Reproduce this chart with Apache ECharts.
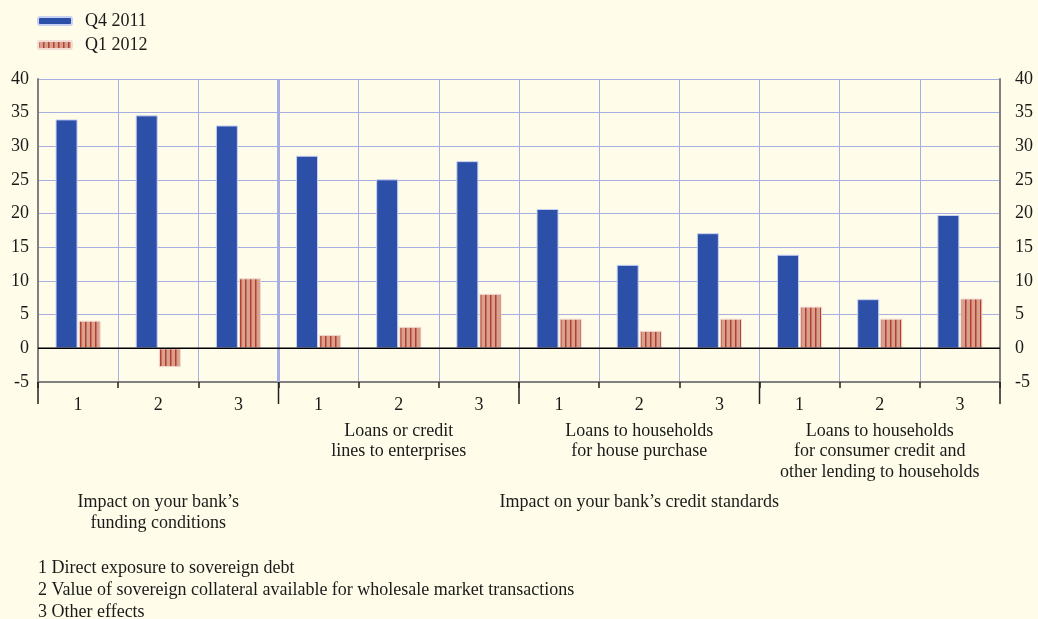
<!DOCTYPE html>
<html>
<head>
<meta charset="utf-8">
<script src="https://cdn.jsdelivr.net/npm/echarts@6/dist/echarts.min.js"></script>
<style>
html,body{margin:0;padding:0;background:#fffde9;}
#main{width:1038px;height:619px;}
</style>
</head>
<body>
<div id="main"></div>
<script>
// ---- data ----
const categories = ['F1','F2','F3','E1','E2','E3','H1','H2','H3','C1','C2','C3'];
const tickLabels = ['1','2','3','1','2','3','1','2','3','1','2','3'];
const q4_2011 = [34.0, 34.6, 33.1, 28.6, 25.1, 27.8, 20.7, 12.4, 17.1, 13.9, 7.3, 19.8];
const q1_2012 = [4.1, -2.8, 10.4, 2.0, 3.2, 8.1, 4.4, 2.6, 4.4, 6.2, 4.4, 7.4];
const seriesNames = ['Q4 2011', 'Q1 2012'];
const groupLabels = ['', '', '', '', 'Loans or credit\nlines to enterprises', '', '',
  'Loans to households\nfor house purchase', '', '',
  'Loans to households\nfor consumer credit and\nother lending to households', ''];
const impactLabels = ['', 'Impact on your bank\u2019s\nfunding conditions', '', '', '', '', '',
  'Impact on your bank\u2019s credit standards', '', '', '', ''];
const footnotes = ['1 Direct exposure to sovereign debt',
  '2 Value of sovereign collateral available for wholesale market transactions',
  '3 Other effects'];
const yMin = -5, yMax = 40, yStep = 5;

const FONT = 'Liberation Serif';
const FS = 18;
const TXT = '#1a1a1a';
const GRID = '#a7aee2';

// stripe pattern for Q1 2012
const pat = document.createElement('canvas');
pat.width = 5; pat.height = 10;
const pc = pat.getContext('2d');
pc.fillStyle = '#d9a08f';
pc.fillRect(0, 0, 5, 10);
pc.fillStyle = '#b3402f';
pc.fillRect(0, 0, 1.5, 10);

const chart = echarts.init(document.getElementById('main'), null, {renderer: 'canvas'});

const splitColors = ['#888888', '#000000'];
for (let v = yMin + 2 * yStep; v <= yMax; v += yStep) splitColors.push(GRID);

const option = {
  backgroundColor: '#fffde9',
  animation: false,
  textStyle: {fontFamily: FONT, color: TXT},
  legend: {
    left: 32, top: 7, orient: 'vertical', itemGap: 6,
    itemWidth: 34, itemHeight: 8,
    textStyle: {fontFamily: FONT, fontSize: FS, color: TXT, padding: [0, 0, 0, 8]},
    data: seriesNames
  },
  grid: {left: 38, right: 38, top: 79, bottom: 237, containLabel: false},
  xAxis: [
    {
      type: 'category', data: categories, position: 'bottom',
      axisLine: {onZero: false, lineStyle: {color: '#808080', width: 2}},
      axisTick: {show: true, length: 6, interval: 0, lineStyle: {color: '#222', width: 1.5}},
      axisLabel: {interval: 0, margin: 14, fontSize: FS, fontFamily: FONT, color: TXT,
        formatter: (v, i) => tickLabels[i]},
      splitLine: {show: true, interval: 0, lineStyle: {color: GRID, width: 1}}
    },
    {
      type: 'category', data: categories, position: 'bottom',
      axisLine: {show: false}, axisTick: {show: false}, splitLine: {show: false},
      axisLabel: {interval: 0, margin: 39, fontSize: FS, lineHeight: 20.5, fontFamily: FONT, color: TXT,
        formatter: (v, i) => groupLabels[i]}
    },
    {
      type: 'category', data: categories, position: 'bottom',
      axisLine: {show: false}, axisTick: {show: false}, splitLine: {show: false},
      axisLabel: {interval: 0, margin: 110, fontSize: FS, lineHeight: 21, fontFamily: FONT, color: TXT,
        formatter: (v, i) => impactLabels[i]}
    }
  ],
  yAxis: [
    {
      type: 'value', min: yMin, max: yMax, interval: yStep, position: 'left',
      axisLine: {show: true, lineStyle: {color: '#808080', width: 2}},
      axisTick: {show: false},
      axisLabel: {margin: 9, fontSize: FS, fontFamily: FONT, color: TXT},
      splitLine: {show: true, lineStyle: {color: splitColors, width: [1]}}
    },
    {
      type: 'value', min: yMin, max: yMax, interval: yStep, position: 'right',
      axisLine: {show: true, lineStyle: {color: '#808080', width: 2}},
      axisTick: {show: false},
      axisLabel: {margin: 15, fontSize: FS, fontFamily: FONT, color: TXT, align: 'left'},
      splitLine: {show: false}
    }
  ],
  series: [
    {
      name: seriesNames[0], type: 'bar', data: q4_2011, barWidth: 22, barGap: '5%',
      itemStyle: {color: '#2c4fa8', borderColor: '#c9d1f2', borderWidth: 1}
    },
    {
      name: seriesNames[1], type: 'bar', data: q1_2012, barWidth: 22,
      itemStyle: {color: {image: pat, repeat: 'repeat'}, borderColor: '#f2dcd4', borderWidth: 1}
    }
  ]
};
chart.setOption(option);

// derived decorations (positions from the chart's own scales)
const c0 = chart.convertToPixel({xAxisIndex: 0}, 0);
const c1 = chart.convertToPixel({xAxisIndex: 0}, 1);
const step = c1 - c0;
const yBottom = chart.convertToPixel({yAxisIndex: 0}, yMin);
const yTop = chart.convertToPixel({yAxisIndex: 0}, yMax);
const yZero = chart.convertToPixel({yAxisIndex: 0}, 0);
const xL = c0 - step / 2, xR = c0 + step * 11.5;
const graphics = [];
// group separator
const sepX = c0 + step * 2.5;
graphics.push({type: 'line', z: 1, shape: {x1: sepX, y1: yTop, x2: sepX, y2: yBottom},
  style: {stroke: GRID, lineWidth: 3}});
// zero line
graphics.push({type: 'line', z: 4, shape: {x1: xL, y1: yZero, x2: xR, y2: yZero},
  style: {stroke: '#000', lineWidth: 1.5}});
// long bracket ticks at group boundaries
[0, 3, 6, 9, 12].forEach(k => {
  const x = c0 + step * (k - 0.5);
  graphics.push({type: 'line', z: 5, shape: {x1: x, y1: yBottom, x2: x, y2: yBottom + 22},
    style: {stroke: '#222', lineWidth: 1.5}});
});
// footnotes
footnotes.forEach((t, i) => {
  graphics.push({type: 'text', left: 38, top: 559 + i * 22.3,
    style: {text: t, font: FS + 'px "' + FONT + '"', fill: TXT}});
});
chart.setOption({graphic: graphics});
</script>
</body>
</html>
